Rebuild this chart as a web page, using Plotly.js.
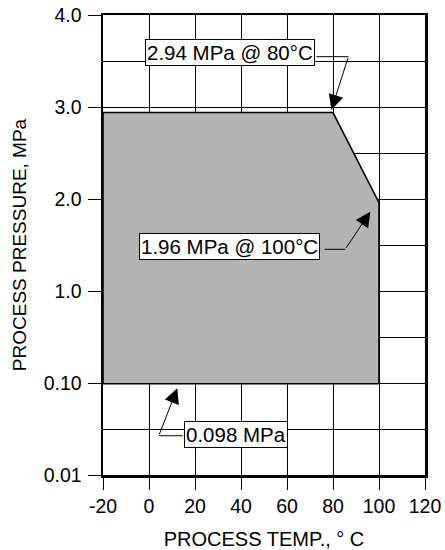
<!DOCTYPE html>
<html>
<head>
<meta charset="utf-8">
<script src="https://cdn.plot.ly/plotly-3.0.1.min.js"></script>
<style>html,body{margin:0;padding:0;background:#fff;}#chart{width:445px;height:550px;}</style>
</head>
<body>
<div id="chart"></div>
<script>
// Operating envelope outline (process temperature °C, process pressure MPa)
const temps = [-20, 80, 100, 100, -20, -20];
const pressures = [2.94, 2.94, 1.96, 0.098, 0.098, 2.94];

// Y axis tick values and labels
const yTickValues = [0.01, 0.1, 1, 2, 3, 4];
const yTickLabels = ['0.01', '0.10', '1.0', '2.0', '3.0', '4.0'];
const xTickValues = [-20, 0, 20, 40, 60, 80, 100, 120];

// Annotation labels
const labels = ['2.94 MPa @ 80°C', '1.96 MPa @ 100°C', '0.098 MPa'];

// Broken pressure scale: log from 0.01 to 1, linear from 1 to 4
function pos(p) {
  if (p <= 0.1) return 1 + Math.log10(p / 0.1);
  if (p <= 1) return 2 + Math.log10(p);
  return p + 1;
}

const yTickPos = yTickValues.map(pos);
const minorPos = [];
for (let i = 0; i < yTickPos.length - 1; i++) minorPos.push((yTickPos[i] + yTickPos[i + 1]) / 2);

const font = 'Liberation Sans, Arial, Helvetica, sans-serif';

const trace = {
  type: 'scatter',
  mode: 'lines',
  x: temps,
  y: pressures.map(pos),
  fill: 'toself',
  fillcolor: '#b3b3b3',
  line: {color: '#000', width: 1.6},
  hoverinfo: 'skip',
  showlegend: false
};

function box(text, x, y) {
  return {x: x, y: y, xref: 'x', yref: 'y', text: text, showarrow: false,
    xanchor: 'center', yanchor: 'middle', bgcolor: '#fff', bordercolor: '#000',
    borderwidth: 1, borderpad: 1, font: {family: font, size: 20.5, color: '#000'}};
}
function arrow(tx, ty, ax, ay) {
  return {x: tx, y: ty, xref: 'x', yref: 'y', ax: ax, ay: ay, axref: 'x', ayref: 'y',
    text: '', showarrow: true, arrowhead: 2, arrowsize: 3, arrowwidth: 1,
    arrowcolor: '#000', standoff: 0, startstandoff: 0, font: {size: 1}};
}
function seg(x0, x1, y) {
  return {type: 'line', xref: 'x', yref: 'y', x0: x0, x1: x1, y0: y, y1: y,
    line: {color: '#000', width: 1}, layer: 'above'};
}

const layout = {
  width: 445, height: 550,
  margin: {l: 103, r: 20, t: 15, b: 75},
  paper_bgcolor: '#fff', plot_bgcolor: '#fff',
  font: {family: font, color: '#000'},
  showlegend: false,
  xaxis: {
    range: [-20, 120], tickmode: 'array', tickvals: xTickValues,
    ticktext: xTickValues.map(String),
    showgrid: true, gridcolor: '#000', gridwidth: 1,
    zeroline: false, showline: true, linecolor: '#000', linewidth: 2.5, mirror: true,
    ticks: 'outside', ticklen: 12, tickwidth: 1, tickcolor: '#000',
    tickfont: {family: font, size: 19.5, color: '#000'},
    title: {text: 'PROCESS TEMP., ° C', font: {family: font, size: 20, color: '#000'}, standoff: 16}
  },
  yaxis: {
    range: [0, 5], tickmode: 'array', tickvals: yTickPos, ticktext: yTickLabels,
    showgrid: true, gridcolor: '#000', gridwidth: 1,
    minor: {tickmode: 'array', tickvals: minorPos, showgrid: true, gridcolor: '#000', gridwidth: 1, ticks: ''},
    zeroline: false, showline: true, linecolor: '#000', linewidth: 2.5, mirror: true,
    ticks: 'outside', ticklen: 13, tickwidth: 1, tickcolor: '#000',
    tickfont: {family: font, size: 19.5, color: '#000'},
    ticklabelstandoff: 2,
    title: {text: 'PROCESS PRESSURE, MPa', font: {family: font, size: 19, color: '#000'}, standoff: 12}
  },
  shapes: [
    seg(72.8, 86.7, 4.547),
    seg(76.3, 85.3, 2.453),
    seg(14.7, 4.26, 0.427)
  ],
  annotations: [
    arrow(79.3, 3.97, 86.7, 4.547),
    arrow(96.2, 2.862, 85.3, 2.453),
    arrow(12.3, 0.942, 4.26, 0.427),
    box(labels[0], 35.2, 4.593),
    box(labels[1], 34.9, 2.482),
    box(labels[2], 37.9, 0.437)
  ]
};

Plotly.newPlot('chart', [trace], layout, {staticPlot: true, displayModeBar: false});
</script>
</body>
</html>
